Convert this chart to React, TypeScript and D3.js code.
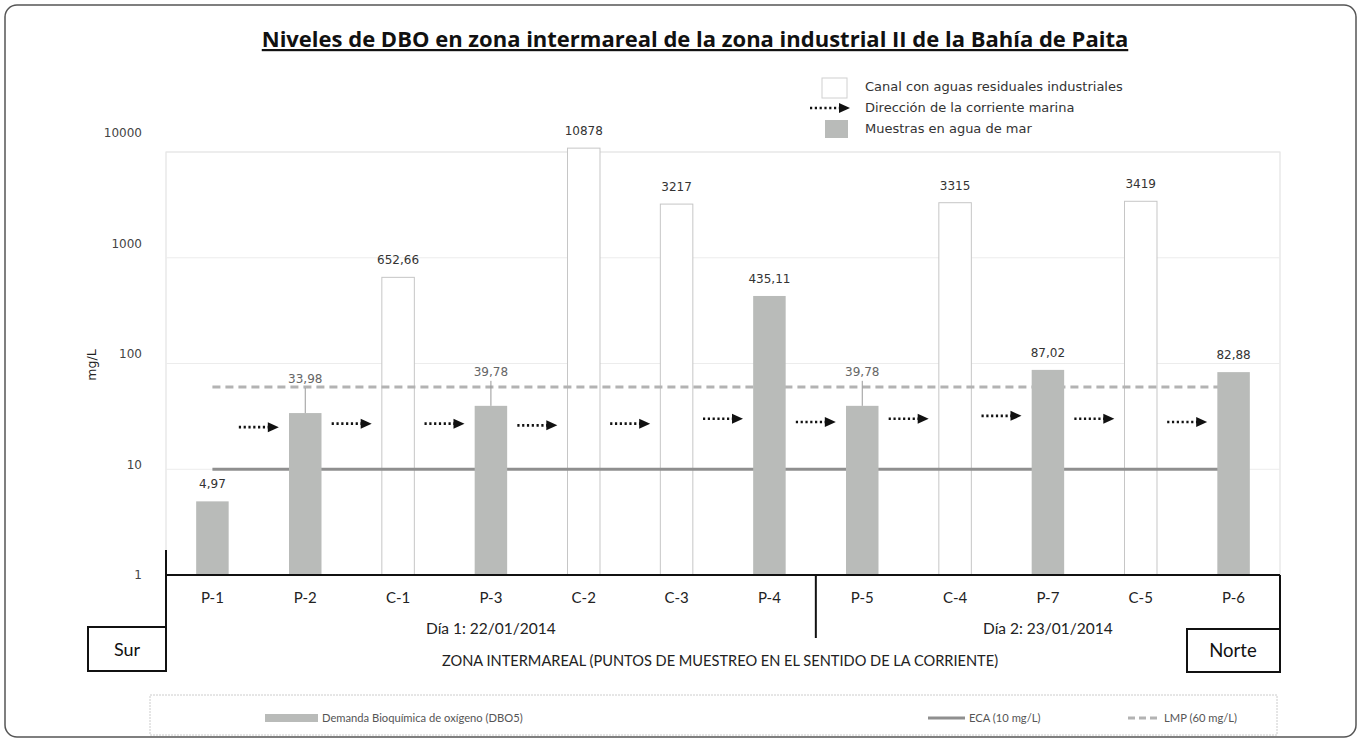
import React from "react";
import * as d3 from "d3";

// datos
const categories = ["P-1", "P-2", "C-1", "P-3", "C-2", "C-3", "P-4", "P-5", "C-4", "P-7", "C-5", "P-6"];
const dboValues = [4.97, 33.98, 652.66, 39.78, 10878, 3217, 435.11, 39.78, 3315, 87.02, 3419, 82.88];
const valueLabels = ["4,97", "33,98", "652,66", "39,78", "10878", "3217", "435,11", "39,78", "3315", "87,02", "3419", "82,88"];
const yTicks = [1, 10, 100, 1000, 10000];
const ecaLimit = 10;
const lmpLimit = 60;
// nivel (mg/L) de cada flecha entre puntos consecutivos
const arrowLevels = [25, 27, 27, 26, 27, 30, 28, 30, 32, 30, 28];
const days = [
  { label: "Día 1: 22/01/2014", first: "P-1", last: "P-4" },
  { label: "Día 2: 23/01/2014", first: "P-5", last: "P-6" },
];

const W = 1362;
const H = 740;
const left = 166;
const right = 1280;
const base = 575;
const top = 152;
const ff = "'DejaVu Sans', Verdana, sans-serif";
const fc = "Lato, 'Open Sans', sans-serif";
const grayFill = "#b9bbb9";

const isCanal = (c: string) => c.startsWith("C");
const withLeader = ["P-2", "P-3", "P-5"];

const Arrow = ({ x1, x2, y }: { x1: number; x2: number; y: number }) => (
  <g>
    <line x1={x1} x2={x2 - 9} y1={y} y2={y} stroke="#111" strokeWidth={2.6} strokeDasharray="2.2,2.6" />
    <path d={`M${x2 - 11},${y - 5}L${x2},${y}L${x2 - 11},${y + 5}Z`} fill="#111" />
  </g>
);

export default function App() {
  const x = d3.scaleBand<string>().domain(categories).range([left, right]).paddingInner(0.65).paddingOuter(0.325);
  const y = d3.scaleLog().domain([1, 10000]).range([base, top]);
  // las etiquetas del eje estan algo desplazadas en el original
  const yLabel = d3.scaleLog().domain([1, 10000]).range([579, 137]);
  const cx = (c: string) => (x(c) as number) + x.bandwidth() / 2;
  const step = x.step();
  const firstC = categories[0];
  const lastC = categories[categories.length - 1];
  const divider = cx("P-4") + step / 2;

  const limitLine = (v: number) => d3.line<string>().x((c) => cx(c)).y(() => y(v))([firstC, lastC]) as string;

  return (
    <svg width={W} height={H} style={{ position: "absolute", left: 0, top: 0, background: "#fff" }}>
      <rect x={5} y={5} width={1351} height={732} rx={12} fill="#fff" stroke="#555" strokeWidth={1.5} />

      {/* titulo */}
      <text x={695} y={47} textAnchor="middle" fontFamily="'Open Sans', sans-serif" fontWeight={700} fontSize={22} fill="#111" textDecoration="underline">
        Niveles de DBO en zona intermareal de la zona industrial II de la Bahía de Paita
      </text>

      {/* area del grafico */}
      <rect x={left} y={top} width={right - left} height={base - top} fill="none" stroke="#ddd" />
      {yTicks.slice(1).map((t) => (
        <line key={t} x1={left} x2={right} y1={y(t)} y2={y(t)} stroke="#ececec" />
      ))}
      {yTicks.map((t) => (
        <text key={t} x={142} y={yLabel(t)} textAnchor="end" fontFamily={ff} fontSize={12} fill="#444">
          {t}
        </text>
      ))}
      <text transform={`translate(96,${365}) rotate(-90)`} textAnchor="middle" fontFamily={ff} fontSize={12.5} fill="#222">
        mg/L
      </text>

      {/* canales */}
      {categories.map((c, i) =>
        isCanal(c) ? (
          <rect key={c} x={x(c)} y={y(dboValues[i])} width={x.bandwidth()} height={base - y(dboValues[i])} fill="#fff" stroke="#c6c6c6" strokeWidth={1} />
        ) : null
      )}

      {/* limites */}
      <path d={limitLine(ecaLimit)} stroke="#8f8f8f" strokeWidth={3} fill="none" />
      <path d={limitLine(lmpLimit)} stroke="#b3b3b3" strokeWidth={3} strokeDasharray="8,5" fill="none" />

      {/* muestras */}
      {categories.map((c, i) =>
        !isCanal(c) ? (
          <rect key={c} x={x(c)} y={y(dboValues[i])} width={x.bandwidth()} height={base - y(dboValues[i])} fill={grayFill} />
        ) : null
      )}

      {/* etiquetas de valores */}
      {categories.map((c, i) => {
        const yt = y(dboValues[i]);
        const lead = withLeader.includes(c);
        return (
          <g key={c}>
            {lead && <line x1={cx(c)} x2={cx(c)} y1={yt - 25} y2={yt} stroke="#999" />}
            <text x={cx(c)} y={lead ? yt - 30 : yt - 13} textAnchor="middle" fontFamily={ff} fontSize={12} fill={lead ? "#666" : "#333"}>
              {valueLabels[i]}
            </text>
          </g>
        );
      })}

      {/* flechas de corriente */}
      {arrowLevels.map((v, i) => {
        const mid = (cx(categories[i]) + cx(categories[i + 1])) / 2;
        return <Arrow key={i} x1={mid - 20} x2={mid + 20} y={y(v)} />;
      })}

      {/* eje inferior */}
      <line x1={left} x2={right} y1={base} y2={base} stroke="#111" strokeWidth={2} />
      <line x1={left} x2={left} y1={550} y2={671} stroke="#111" strokeWidth={2} />
      <line x1={right} x2={right} y1={base} y2={672} stroke="#111" strokeWidth={2} />
      <line x1={divider} x2={divider} y1={base} y2={638} stroke="#111" strokeWidth={2} />
      {categories.map((c) => (
        <text key={c} x={cx(c)} y={603} textAnchor="middle" fontFamily={fc} fontSize={15} fill="#222">
          {c}
        </text>
      ))}
      {days.map((d, i) => {
        const a = i === 0 ? left : divider;
        const b = i === 0 ? divider : right;
        return (
          <text key={d.label} x={(a + b) / 2} y={634} textAnchor="middle" fontFamily={fc} fontSize={15.5} fill="#222">
            {d.label}
          </text>
        );
      })}
      <text x={720} y={666} textAnchor="middle" fontFamily={fc} fontSize={14.6} fill="#222">
        ZONA INTERMAREAL (PUNTOS DE MUESTREO EN EL SENTIDO DE LA CORRIENTE)
      </text>

      <rect x={88} y={627} width={left - 88} height={44} fill="#fff" stroke="#111" strokeWidth={2} />
      <text x={127} y={656} textAnchor="middle" fontFamily={fc} fontSize={18} fill="#111">Sur</text>
      <rect x={1187} y={629} width={right - 1187} height={43} fill="#fff" stroke="#111" strokeWidth={2} />
      <text x={1233} y={657} textAnchor="middle" fontFamily={fc} fontSize={18.5} fill="#111">Norte</text>

      {/* leyenda superior */}
      <g fontFamily={ff} fontSize={13} fill="#333">
        <rect x={822} y={78} width={25} height={20} fill="#fff" stroke="#d0d0d0" />
        <text x={865} y={91}>Canal con aguas residuales industriales</text>
        <Arrow x1={810} x2={850} y={108} />
        <text x={865} y={112}>Dirección de la corriente marina</text>
        <rect x={825} y={120} width={23} height={18} fill={grayFill} />
        <text x={865} y={133}>Muestras en agua de mar</text>
      </g>

      {/* leyenda inferior */}
      <rect x={150} y={695} width={1127} height={40} fill="#fff" stroke="#ccc" strokeDasharray="2,1" />
      <g fontFamily={fc} fontSize={11.2} fill="#555">
        <rect x={265} y={714} width={53} height={8} fill={grayFill} />
        <text x={322} y={722}>Demanda Bioquímica de oxígeno (DBO5)</text>
        <line x1={928} x2={965} y1={718} y2={718} stroke="#8f8f8f" strokeWidth={3} />
        <text x={969} y={722}>ECA (10 mg/L)</text>
        <line x1={1128} x2={1160} y1={718} y2={718} stroke="#b3b3b3" strokeWidth={3} strokeDasharray="7,4" />
        <text x={1164} y={722}>LMP (60 mg/L)</text>
      </g>
    </svg>
  );
}
